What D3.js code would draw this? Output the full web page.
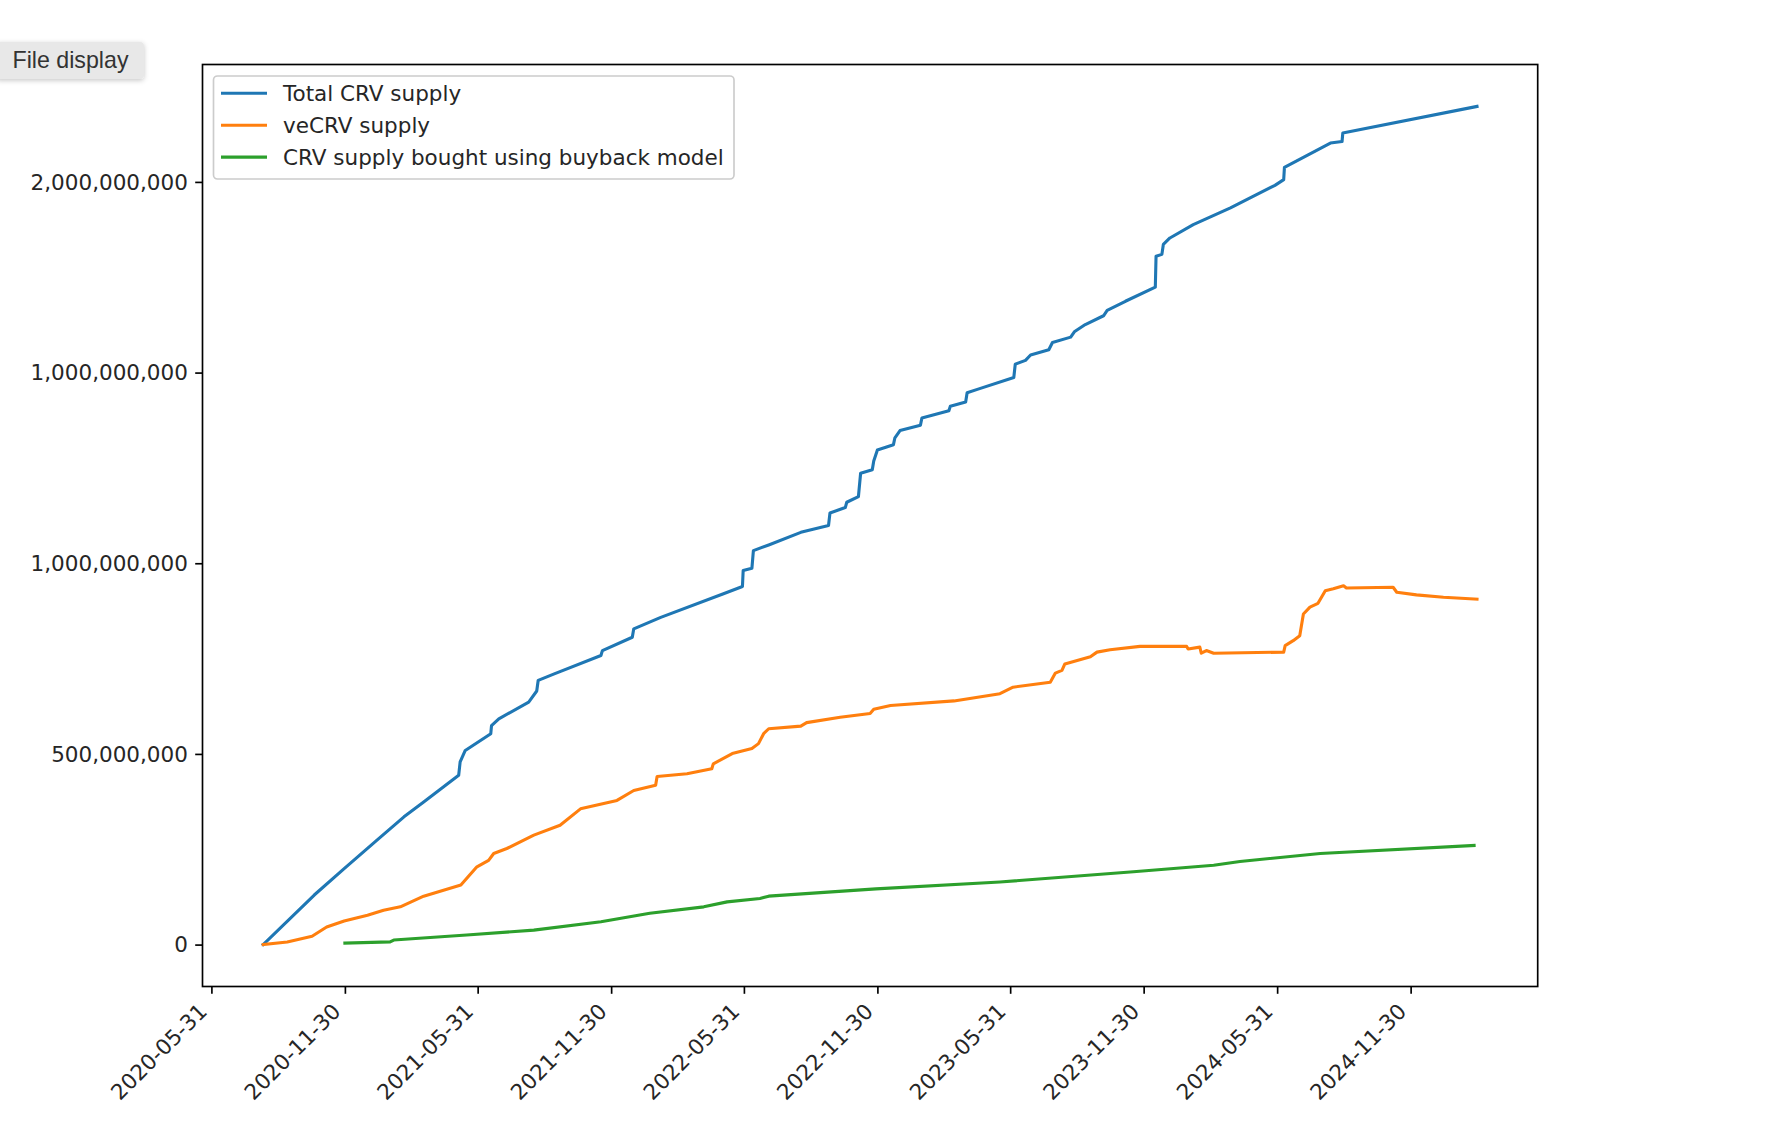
<!DOCTYPE html>
<html><head><meta charset="utf-8">
<script src="https://cdn.jsdelivr.net/npm/d3@7"></script>
<style>
html,body{margin:0;padding:0;background:#fff;}
svg{display:block;}
</style></head><body>
<svg id="chart" width="1782" height="1130"></svg>
<script>
// ---------------- data (values in millions of CRV) ----------------
const seriesNames = ["Total CRV supply", "veCRV supply", "CRV supply bought using buyback model"];
const seriesColors = ["#1f77b4", "#ff7f0e", "#2ca02c"];

const totalDates = ["2020-08-10","2020-10-19","2020-11-29","2021-01-13","2021-02-19","2021-03-18","2021-05-05","2021-05-07","2021-05-14","2021-06-18","2021-06-19","2021-06-29","2021-08-09","2021-08-20","2021-08-22","2021-09-13","2021-11-16","2021-11-18","2021-12-29","2021-12-31","2022-02-06","2022-05-03","2022-05-29","2022-05-30","2022-06-11","2022-06-13","2022-07-04","2022-08-17","2022-09-24","2022-09-26","2022-10-17","2022-10-19","2022-11-04","2022-11-07","2022-11-23","2022-11-25","2022-11-30","2022-12-22","2022-12-24","2022-12-31","2023-01-28","2023-01-30","2023-03-08","2023-03-10","2023-03-31","2023-04-02","2023-04-16","2023-06-05","2023-06-07","2023-06-21","2023-06-28","2023-07-23","2023-07-28","2023-08-22","2023-08-27","2023-09-11","2023-10-06","2023-10-11","2023-11-05","2023-12-16","2023-12-17","2023-12-25","2023-12-27","2024-01-05","2024-02-06","2024-03-28","2024-05-28","2024-06-09","2024-06-10","2024-08-12","2024-08-28","2024-08-29","2025-03-01"];
const totalValues = [0,130,199,274,335,374,444,479,509,553,574,592,636,665,693,710,758,771,806,828,858,920,939,981,987,1033,1048,1081,1099,1132,1146,1160,1175,1236,1245,1268,1297,1311,1329,1348,1362,1381,1400,1412,1423,1447,1456,1487,1522,1532,1546,1560,1579,1593,1607,1626,1649,1663,1687,1724,1805,1810,1836,1853,1888,1932,1991,2006,2038,2102,2106,2128,2198];

const veDates = ["2020-08-10","2020-09-12","2020-10-16","2020-11-05","2020-11-29","2020-12-31","2021-01-22","2021-02-14","2021-03-18","2021-05-08","2021-05-30","2021-06-15","2021-06-22","2021-07-10","2021-08-16","2021-09-21","2021-10-19","2021-12-08","2021-12-31","2022-01-30","2022-02-01","2022-03-14","2022-04-17","2022-04-19","2022-05-15","2022-06-11","2022-06-20","2022-06-27","2022-07-04","2022-08-17","2022-08-25","2022-10-10","2022-11-20","2022-11-25","2022-12-18","2023-03-15","2023-05-17","2023-06-04","2023-07-25","2023-08-01","2023-08-10","2023-08-14","2023-09-18","2023-09-27","2023-10-15","2023-11-25","2024-01-28","2024-01-30","2024-02-15","2024-02-17","2024-02-24","2024-03-05","2024-06-09","2024-06-11","2024-06-22","2024-07-01","2024-07-06","2024-07-15","2024-07-26","2024-08-05","2024-08-16","2024-08-30","2024-09-03","2024-11-06","2024-11-11","2024-12-08","2025-01-14","2025-03-01"];
const veValues = [0,7,22,46,62,77,90,99,127,156,204,221,239,252,287,313,356,378,404,418,441,448,461,474,501,514,527,553,566,573,582,596,606,617,627,639,658,675,688,712,719,736,755,767,773,782,782,775,780,764,771,764,767,784,797,810,867,885,895,928,933,941,935,937,924,917,911,906];

const buybackDates = ["2020-11-30","2021-01-31","2021-02-05","2021-05-16","2021-08-16","2021-11-16","2022-01-22","2022-04-06","2022-05-08","2022-06-22","2022-07-04","2022-11-28","2023-05-17","2023-11-16","2024-03-05","2024-04-10","2024-07-29","2025-02-25"];
const buybackValues = [4,7,12,25,38,60,82,99,112,121,127,146,164,191,208,218,239,260];

const xTickDates = ["2020-05-31","2020-11-30","2021-05-31","2021-11-30","2022-05-31","2022-11-30","2023-05-31","2023-11-30","2024-05-31","2024-11-30"];
const yTickValues = [0, 500, 1000, 1500, 2000];
const yTickLabels = ["0", "500,000,000", "1,000,000,000", "1,000,000,000", "2,000,000,000"];

// ---------------- layout ----------------
const parse = d3.utcParse("%Y-%m-%d");
const fmt = d3.utcFormat("%Y-%m-%d");
const svg = d3.select("#chart");
const font = "'DejaVu Sans', sans-serif";
const fs = 21.5;
const L = 202.5, R = 1537.7, T = 64.5, B = 986.5;
const tickLen = 7.3, tickPad = 7.3;

const series = [
  {name: seriesNames[0], color: seriesColors[0], pts: totalDates.map((d,i)=>({d:parse(d), v: totalValues[i]}))},
  {name: seriesNames[1], color: seriesColors[1], pts: veDates.map((d,i)=>({d:parse(d), v: veValues[i]}))},
  {name: seriesNames[2], color: seriesColors[2], pts: buybackDates.map((d,i)=>({d:parse(d), v: buybackValues[i]}))}
];
const all = series.flatMap(s=>s.pts);
const [dMin, dMax] = d3.extent(all, p=>p.d);
const dPad = (dMax - dMin) * 0.05;
const [vMin, vMax] = d3.extent(all, p=>p.v);
const vPad = (vMax - vMin) * 0.05;

const x = d3.scaleUtc().domain([new Date(+dMin - dPad), new Date(+dMax + dPad)]).range([L, R]);
const y = d3.scaleLinear().domain([vMin - vPad, vMax + vPad]).range([B, T]);

// File display button
const defs = svg.append("defs");
const f = defs.append("filter").attr("id","sh").attr("x","-20%").attr("y","-40%").attr("width","140%").attr("height","180%");
f.append("feDropShadow").attr("dx",0).attr("dy",1.5).attr("stdDeviation",2.5).attr("flood-color","#000").attr("flood-opacity",0.22);
svg.append("rect").attr("x",-4).attr("y",42).attr("width",148).attr("height",37).attr("rx",4)
  .attr("fill","#e8e8e8").attr("filter","url(#sh)");
svg.append("text").attr("x",12.5).attr("y",67.5).attr("font-family","'Liberation Sans', Arial, sans-serif")
  .attr("font-size",23.2).attr("fill","#333").text("File display");

// lines
const line = d3.line().x(p=>x(p.d)).y(p=>y(p.v));
const plot = svg.append("g");
plot.append("defs").append("clipPath").attr("id","clip").append("rect").attr("x",L).attr("y",T).attr("width",R-L).attr("height",B-T);
series.forEach(s=>{
  plot.append("path").datum(s.pts).attr("d", line).attr("fill","none")
    .attr("stroke", s.color).attr("stroke-width", 3.1).attr("stroke-linejoin","round").attr("stroke-linecap","square")
    .attr("clip-path","url(#clip)");
});

// axes
const yAxis = svg.append("g").attr("transform",`translate(${L},0)`)
  .call(d3.axisLeft(y).tickValues(yTickValues).tickFormat((d,i)=>yTickLabels[i]).tickSize(tickLen).tickPadding(tickPad));
yAxis.select(".domain").remove();
yAxis.selectAll(".tick line").attr("stroke","#000").attr("stroke-width",1.67);
yAxis.selectAll(".tick text").attr("font-family",font).attr("font-size",fs).attr("fill","#262626").attr("dy","0.34em");

const xAxis = svg.append("g").attr("transform",`translate(0,${B})`)
  .call(d3.axisBottom(x).tickValues(xTickDates.map(parse)).tickFormat(fmt).tickSize(tickLen));
xAxis.select(".domain").remove();
xAxis.selectAll(".tick line").attr("stroke","#000").attr("stroke-width",1.67);
const px = -3.5, py = tickLen + tickPad + 11.8;
xAxis.selectAll(".tick text").attr("font-family",font).attr("font-size",fs).attr("fill","#262626")
  .attr("text-anchor","end").attr("x",px).attr("y",py).attr("dy",0)
  .attr("transform",`rotate(-45,${px},${py})`);

// frame
svg.append("rect").attr("x",L).attr("y",T).attr("width",R-L).attr("height",B-T)
  .attr("fill","none").attr("stroke","#000").attr("stroke-width",1.67);

// legend
const lg = svg.append("g");
lg.append("rect").attr("x",213.5).attr("y",76).attr("width",520.5).attr("height",103).attr("rx",4)
  .attr("fill","#fff").attr("fill-opacity",0.8).attr("stroke","#cccccc").attr("stroke-width",1.67);
series.forEach((s,i)=>{
  const ry = 93.3 + i*31.9;
  lg.append("line").attr("x1",221).attr("x2",267).attr("y1",ry).attr("y2",ry)
    .attr("stroke",s.color).attr("stroke-width",3.1);
  lg.append("text").attr("x",283).attr("y",ry).attr("dy","0.36em")
    .attr("font-family",font).attr("font-size",fs).attr("fill","#262626").text(s.name);
});
</script>
</body></html>
